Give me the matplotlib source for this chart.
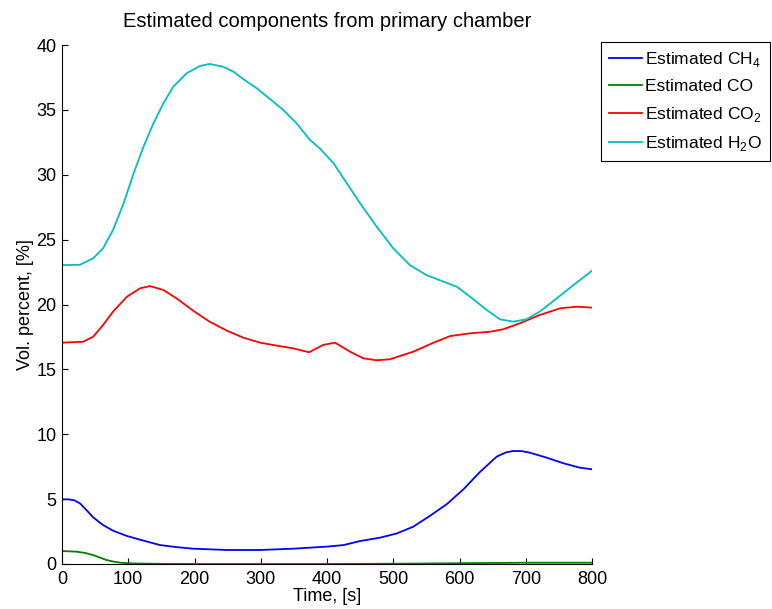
import matplotlib
matplotlib.use("Agg")
import matplotlib.pyplot as plt

plt.rcParams['font.family'] = ['Liberation Sans', 'DejaVu Sans']
plt.rcParams['mathtext.fontset'] = 'custom'
plt.rcParams['mathtext.rm'] = 'Liberation Sans'

t_ch4 = [0, 10, 18, 27, 37, 47, 62, 77, 98, 123, 148, 173, 198, 249, 299, 349, 400, 425, 450, 480, 505, 530, 555, 581, 606, 631, 656, 670, 681, 694, 706, 732, 757, 782, 800]
ch4 = [4.98, 4.98, 4.92, 4.68, 4.15, 3.6, 3.0, 2.57, 2.16, 1.8, 1.46, 1.3, 1.18, 1.08, 1.08, 1.18, 1.34, 1.46, 1.77, 2.03, 2.35, 2.87, 3.7, 4.62, 5.76, 7.1, 8.27, 8.6, 8.71, 8.7, 8.58, 8.19, 7.76, 7.42, 7.3]

t_co = [0, 22, 35, 47, 57, 67, 78, 88, 105, 123, 150, 200, 300, 400, 500, 600, 700, 800]
co = [1.0, 0.95, 0.85, 0.69, 0.5, 0.31, 0.18, 0.1, 0.05, 0.03, 0.01, 0.0, 0.0, 0.0, 0.02, 0.06, 0.1, 0.1]

t_co2 = [0, 32, 47, 62, 77, 98, 118, 133, 153, 173, 198, 223, 249, 274, 299, 324, 349, 373, 394, 412, 435, 455, 475, 495, 530, 561, 586, 616, 646, 666, 691, 721, 752, 777, 800]
co2 = [17.06, 17.13, 17.52, 18.42, 19.45, 20.6, 21.25, 21.42, 21.12, 20.47, 19.52, 18.67, 17.98, 17.44, 17.06, 16.83, 16.62, 16.32, 16.88, 17.06, 16.36, 15.85, 15.7, 15.78, 16.36, 17.06, 17.57, 17.78, 17.9, 18.09, 18.55, 19.19, 19.71, 19.83, 19.76]

t_h2o = [0, 27, 47, 62, 77, 93, 108, 123, 138, 153, 168, 188, 208, 223, 243, 259, 274, 294, 314, 334, 354, 374, 389, 410, 430, 450, 475, 500, 525, 550, 576, 596, 616, 641, 661, 681, 701, 721, 747, 772, 800]
h2o = [23.04, 23.06, 23.56, 24.33, 25.74, 27.8, 30.1, 32.16, 33.97, 35.5, 36.79, 37.82, 38.38, 38.54, 38.33, 37.94, 37.36, 36.66, 35.84, 34.99, 33.97, 32.7, 32.04, 30.88, 29.34, 27.8, 26.0, 24.33, 23.04, 22.27, 21.76, 21.37, 20.6, 19.58, 18.86, 18.68, 18.86, 19.45, 20.48, 21.5, 22.6]

labels = [r'Estimated CH$_4$', 'Estimated CO', r'Estimated CO$_2$', r'Estimated H$_2$O']
colors = ['#0000ff', '#008000', '#ff0000', '#00bfbf']

fig = plt.figure(figsize=(7.72, 6.09), dpi=100)
ax = fig.add_axes([62/772, 45/609, 530/772, 519/609])

series = [(t_ch4, ch4), (t_co, co), (t_co2, co2), (t_h2o, h2o)]
for (t, v), c, lab in zip(series, colors, labels):
    ax.plot(t, v, color=c, lw=1.3, label=lab, solid_joinstyle='round')

ax.set_xlim(0, 800)
ax.set_ylim(0, 40)
ax.set_xticks(range(0, 801, 100))
ax.set_yticks(range(0, 41, 5))
ax.spines['top'].set_visible(False)
ax.spines['right'].set_visible(False)
ax.tick_params(direction='in', length=4, labelsize=13, width=0.8)
ax.tick_params(axis='x', pad=5)
ax.tick_params(axis='y', pad=4)
ax.set_xlabel('Time, [s]', fontsize=13, labelpad=0)
ax.set_ylabel('Vol. percent, [%]', fontsize=13, labelpad=2)
ax.set_title('Estimated components from primary chamber', fontsize=14.5, pad=13)

leg = ax.legend(loc='upper left', bbox_to_anchor=(601/772, 1 - 42/609),
                bbox_transform=fig.transFigure, borderaxespad=0, fontsize=12.5,
                fancybox=False, framealpha=1, edgecolor='black',
                handlelength=1.9, handletextpad=0.2, labelspacing=0.6,
                borderpad=0.45)
leg.get_frame().set_linewidth(0.8)

fig.savefig('out.png', dpi=100)
